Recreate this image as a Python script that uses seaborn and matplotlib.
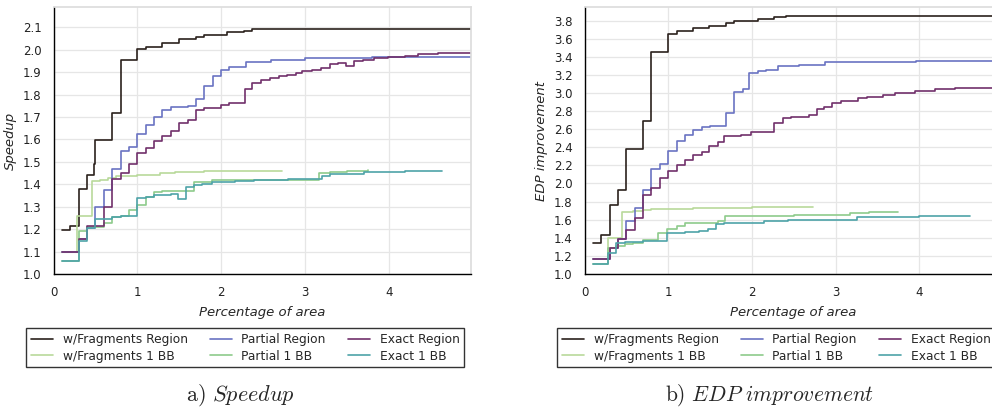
import pandas as pd
import seaborn as sns
import matplotlib.pyplot as plt
from matplotlib.ticker import MultipleLocator

# legend order (column-major in a 3-column legend)
labels = ["w/Fragments Region", "w/Fragments 1 BB", "Partial Region",
          "Partial 1 BB", "Exact Region", "Exact 1 BB"]
colors = ["#2b211c", "#b9d99b", "#6a73c2", "#8ecb8b", "#71306b", "#4ea3a8"]

# ---- a) Speedup ----
sp_frag_reg_x = [0.1, 0.2, 0.3, 0.4, 0.48, 0.5, 0.7, 0.8, 1.0, 1.1, 1.3, 1.5, 1.7, 1.8, 2.07, 2.27, 2.37, 5.0]
sp_frag_reg_y = [1.195, 1.216, 1.379, 1.443, 1.489, 1.599, 1.717, 1.955, 2.003, 2.013, 2.028, 2.047, 2.058, 2.067, 2.079, 2.083, 2.09, 2.09]

sp_frag_bb_x = [0.1, 0.28, 0.46, 0.55, 0.65, 0.75, 1.0, 1.27, 1.45, 1.8, 2.1, 2.73]
sp_frag_bb_y = [1.098, 1.257, 1.416, 1.42, 1.428, 1.436, 1.44, 1.451, 1.453, 1.457, 1.459, 1.46]

sp_part_reg_x = [0.1, 0.3, 0.4, 0.5, 0.6, 0.7, 0.8, 0.9, 1.0, 1.1, 1.2, 1.3, 1.4, 1.6, 1.7, 1.8, 1.9, 2.0, 2.1,
                 2.3, 2.6, 3.0, 3.8, 5.0]
sp_part_reg_y = [1.098, 1.158, 1.205, 1.30, 1.373, 1.467, 1.546, 1.568, 1.624, 1.664, 1.698, 1.729, 1.744, 1.75,
                 1.779, 1.839, 1.883, 1.91, 1.924, 1.947, 1.953, 1.962, 1.967, 1.972]

sp_part_bb_x = [0.1, 0.3, 0.4, 0.6, 0.7, 0.8, 0.9, 1.0, 1.1, 1.2, 1.3, 1.58, 1.68, 1.89, 2.4, 3.17, 3.3, 3.5, 3.75]
sp_part_bb_y = [1.056, 1.19, 1.21, 1.227, 1.254, 1.26, 1.284, 1.309, 1.345, 1.365, 1.368, 1.372, 1.411, 1.418,
                1.42, 1.449, 1.455, 1.46, 1.462]

sp_exact_reg_x = [0.1, 0.3, 0.4, 0.6, 0.7, 0.8, 0.9, 1.0, 1.1, 1.2, 1.3, 1.4, 1.5, 1.6, 1.7, 1.8, 2.0, 2.1, 2.28,
                  2.37, 2.48, 2.58, 2.69, 2.79, 2.89, 2.97, 3.09, 3.19, 3.3, 3.4, 3.49, 3.59, 3.69, 3.83, 3.99,
                  4.19, 4.35, 4.59, 5.0]
sp_exact_reg_y = [1.098, 1.158, 1.216, 1.30, 1.423, 1.452, 1.492, 1.538, 1.563, 1.591, 1.613, 1.636, 1.673, 1.687,
                  1.732, 1.739, 1.755, 1.764, 1.826, 1.851, 1.866, 1.873, 1.881, 1.888, 1.895, 1.903, 1.91, 1.918,
                  1.937, 1.94, 1.928, 1.95, 1.955, 1.961, 1.967, 1.973, 1.979, 1.985, 1.988]

sp_exact_bb_x = [0.1, 0.3, 0.4, 0.5, 0.7, 0.8, 1.0, 1.1, 1.2, 1.4, 1.48, 1.58, 1.68, 1.77, 1.89, 2.0, 2.17, 2.39,
                 2.8, 3.2, 3.3, 3.7, 4.2, 4.64]
sp_exact_bb_y = [1.056, 1.146, 1.205, 1.245, 1.255, 1.26, 1.339, 1.345, 1.35, 1.356, 1.333, 1.386, 1.397, 1.403,
                 1.41, 1.412, 1.415, 1.42, 1.425, 1.435, 1.447, 1.455, 1.46, 1.461]

# ---- b) EDP improvement ----
ed_frag_reg_x = [0.1, 0.2, 0.3, 0.4, 0.49, 0.5, 0.7, 0.8, 1.0, 1.1, 1.3, 1.49, 1.69, 1.79, 2.07, 2.27, 2.41, 5.0]
ed_frag_reg_y = [1.346, 1.426, 1.761, 1.926, 2.044, 2.382, 2.695, 3.456, 3.65, 3.68, 3.717, 3.742, 3.775, 3.797,
                 3.82, 3.837, 3.85, 3.85]

ed_frag_bb_x = [0.1, 0.28, 0.45, 0.58, 0.7, 0.8, 1.0, 1.3, 1.6, 2.0, 2.73]
ed_frag_bb_y = [1.169, 1.393, 1.687, 1.70, 1.71, 1.717, 1.722, 1.728, 1.733, 1.736, 1.738]

ed_part_reg_x = [0.1, 0.3, 0.4, 0.5, 0.6, 0.7, 0.8, 0.9, 1.0, 1.1, 1.2, 1.3, 1.4, 1.5, 1.69, 1.79, 1.89, 1.97,
                 2.07, 2.17, 2.31, 2.56, 2.87, 3.96, 5.0]
ed_part_reg_y = [1.169, 1.29, 1.382, 1.585, 1.724, 1.926, 2.156, 2.217, 2.357, 2.467, 2.54, 2.596, 2.625, 2.63,
                 2.775, 3.01, 3.046, 3.22, 3.247, 3.258, 3.30, 3.31, 3.338, 3.355, 3.36]

ed_part_bb_x = [0.1, 0.28, 0.38, 0.48, 0.58, 0.7, 0.88, 0.98, 1.1, 1.2, 1.59, 1.68, 2.5, 3.17, 3.4, 3.74]
ed_part_bb_y = [1.107, 1.283, 1.31, 1.327, 1.345, 1.38, 1.45, 1.493, 1.53, 1.56, 1.588, 1.643, 1.65, 1.676, 1.68,
                1.682]

ed_exact_reg_x = [0.1, 0.3, 0.4, 0.5, 0.6, 0.7, 0.8, 0.9, 1.0, 1.1, 1.2, 1.3, 1.4, 1.49, 1.59, 1.67, 1.87, 1.99,
                  2.27, 2.37, 2.47, 2.68, 2.78, 2.86, 2.96, 3.07, 3.27, 3.37, 3.57, 3.71, 3.95, 4.19, 4.43, 5.0]
ed_exact_reg_y = [1.169, 1.29, 1.382, 1.49, 1.62, 1.87, 1.95, 2.06, 2.143, 2.2, 2.265, 2.31, 2.35, 2.415, 2.453,
                  2.525, 2.54, 2.567, 2.672, 2.72, 2.74, 2.755, 2.826, 2.85, 2.886, 2.91, 2.94, 2.96, 2.983, 3.0,
                  3.027, 3.04, 3.05, 3.07]

ed_exact_bb_x = [0.1, 0.28, 0.38, 0.48, 0.7, 0.98, 1.2, 1.37, 1.48, 1.57, 1.67, 1.9, 2.15, 2.43, 3.26, 4.0, 4.6]
ed_exact_bb_y = [1.107, 1.228, 1.338, 1.35, 1.37, 1.456, 1.463, 1.48, 1.5, 1.548, 1.56, 1.568, 1.585, 1.6, 1.625,
                 1.64, 1.645]


def make_frame(series):
    parts = []
    for label, (xs, ys) in zip(labels, series):
        parts.append(pd.DataFrame({"area": xs, "value": ys, "kind": label}))
    return pd.concat(parts, ignore_index=True)


def draw(ax, df, ylabel, ylim, ystep, legend_xy):
    sns.lineplot(data=df, x="area", y="value", hue="kind", hue_order=labels, palette=colors,
                 estimator=None, drawstyle="steps-post", linewidth=1.2, ax=ax)
    ax.set_xlim(0, 4.98)
    ax.set_ylim(*ylim)
    ax.xaxis.set_major_locator(MultipleLocator(1))
    ax.yaxis.set_major_locator(MultipleLocator(ystep))
    ax.yaxis.set_major_formatter(plt.FormatStrFormatter("%.1f"))
    ax.set_xlabel("Percentage of area", fontstyle="italic", fontsize=9.5, labelpad=5)
    ax.set_ylabel(ylabel, fontstyle="italic", fontsize=9.5, labelpad=4)
    ax.tick_params(labelsize=8.5, colors="#222222", pad=2.5)
    ax.grid(color="#e6e6e6", linewidth=0.9)
    for side in ["left", "bottom"]:
        ax.spines[side].set_color("black")
        ax.spines[side].set_linewidth(1.0)
    for side in ["top", "right"]:
        ax.spines[side].set_color("#dddddd")
    sns.move_legend(ax, "upper left", bbox_to_anchor=legend_xy, bbox_transform=fig.transFigure,
                    ncol=3, title=None, frameon=True, fancybox=False, edgecolor="black",
                    fontsize=8.8, borderaxespad=0, handlelength=1.8, columnspacing=1.8,
                    borderpad=0.4, labelspacing=0.3)
    ax.get_legend().get_frame().set_linewidth(1.0)


sns.set_theme(style="whitegrid")
plt.rcParams["mathtext.fontset"] = "cm"

fig = plt.figure(figsize=(9.92, 4.11), dpi=100)
ax1 = fig.add_axes([53.5 / 992, 1 - 274 / 411, 83.8 * 4.98 / 992, 267 / 411])
ax2 = fig.add_axes([584.5 / 992, 1 - 274 / 411, 83.7 * 4.98 / 992, 267 / 411])

speed = make_frame([(sp_frag_reg_x, sp_frag_reg_y), (sp_frag_bb_x, sp_frag_bb_y),
                    (sp_part_reg_x, sp_part_reg_y), (sp_part_bb_x, sp_part_bb_y),
                    (sp_exact_reg_x, sp_exact_reg_y), (sp_exact_bb_x, sp_exact_bb_y)])
edp = make_frame([(ed_frag_reg_x, ed_frag_reg_y), (ed_frag_bb_x, ed_frag_bb_y),
                  (ed_part_reg_x, ed_part_reg_y), (ed_part_bb_x, ed_part_bb_y),
                  (ed_exact_reg_x, ed_exact_reg_y), (ed_exact_bb_x, ed_exact_bb_y)])

draw(ax1, speed, "Speedup", (1.0, 2.19), 0.1, (26 / 992, 1 - 328 / 411))
draw(ax2, edp, "EDP improvement", (1.0, 3.95), 0.2, (557 / 992, 1 - 328 / 411))

fig.text(240 / 992, 1 - 395 / 411, r"$\mathrm{a)}\ \mathit{Speedup}$", ha="center", va="center", fontsize=16)
fig.text(770 / 992, 1 - 395 / 411, r"$\mathrm{b)}\ \mathit{EDP\ improvement}$", ha="center", va="center",
         fontsize=15.5)

fig.savefig("out.png", dpi=100)
